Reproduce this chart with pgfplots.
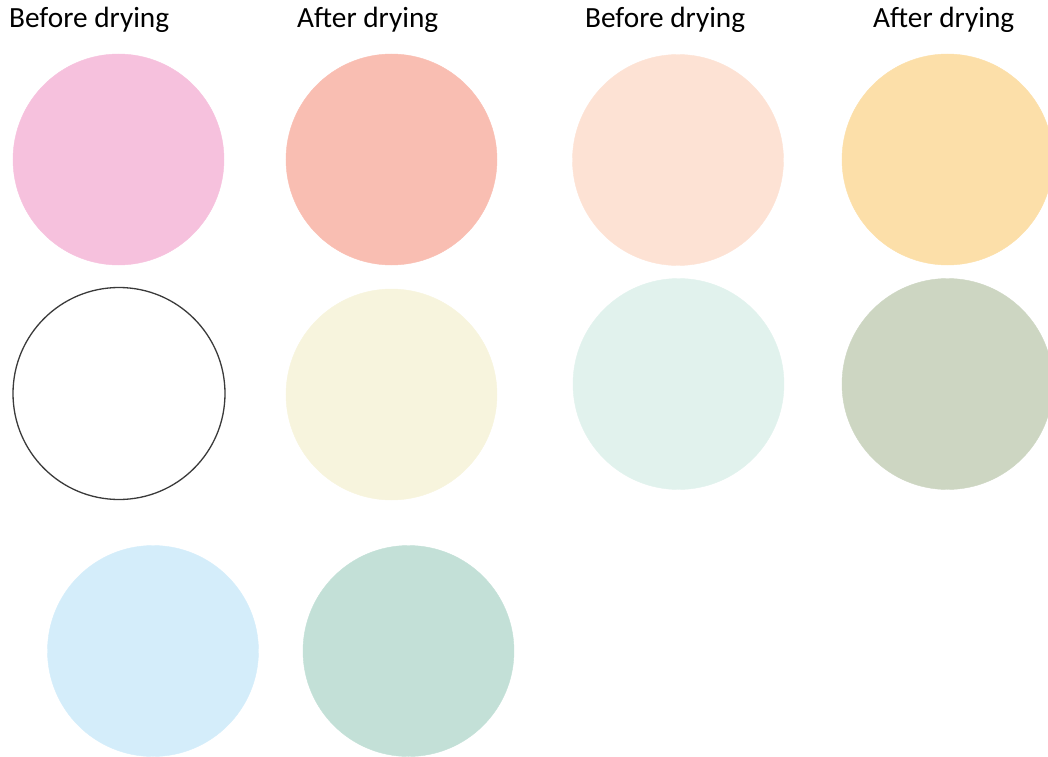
\documentclass[border=0pt]{standalone}
\usepackage{pgfplots}
\pgfplotsset{compat=1.18}
\usepackage{fontspec}
\setmainfont{Carlito}
\definecolor{cPink}{HTML}{F6C1DD}
\definecolor{cSalmon}{HTML}{F9BEB2}
\definecolor{cPeach}{HTML}{FDE2D4}
\definecolor{cYellow}{HTML}{FCDFA9}
\definecolor{cCream}{HTML}{F7F4DD}
\definecolor{cMint}{HTML}{E1F2ED}
\definecolor{cSage}{HTML}{CDD6C2}
\definecolor{cBlue}{HTML}{D4EDFA}
\definecolor{cTeal}{HTML}{C3E0D7}
\definecolor{cRing}{HTML}{3A3A3A}
\begin{document}
\begin{tikzpicture}
\begin{axis}[
  width=1048bp, height=757bp, scale only axis, hide axis,
  xmin=0, xmax=1048, ymin=0, ymax=757, y dir=reverse,
  clip=false,
  every axis plot/.append style={only marks, mark=*, mark size=105.5bp},
]
\addplot[color=cPink, mark options={fill=cPink, draw=cPink}] coordinates {(118.5,159.5)};
\addplot[color=cSalmon, mark options={fill=cSalmon, draw=cSalmon}] coordinates {(391.5,159.5)};
\addplot[color=cPeach, mark options={fill=cPeach, draw=cPeach}] coordinates {(678,160)};
\addplot[color=cYellow, mark options={fill=cYellow, draw=cYellow}] coordinates {(947.5,159.5)};
\addplot[color=cRing, mark options={fill=white, draw=cRing, line width=1.3bp}, mark size=106bp] coordinates {(119,393.5)};
\addplot[color=cCream, mark options={fill=cCream, draw=cCream}] coordinates {(391.5,394.5)};
\addplot[color=cMint, mark options={fill=cMint, draw=cMint}] coordinates {(678.5,384)};
\addplot[color=cSage, mark options={fill=cSage, draw=cSage}] coordinates {(947.5,384)};
\addplot[color=cBlue, mark options={fill=cBlue, draw=cBlue}] coordinates {(153,651)};
\addplot[color=cTeal, mark options={fill=cTeal, draw=cTeal}] coordinates {(408.5,651)};
\begin{scope}[every node/.style={anchor=base west, inner sep=0pt, font=\fontsize{29.3bp}{35bp}\selectfont}]
\node at (axis cs:9,28) {Before drying};
\node at (axis cs:297,28) {After drying};
\node at (axis cs:585,28) {Before drying};
\node at (axis cs:873,28) {After drying};
\end{scope}
\end{axis}
\pgfresetboundingbox
\path[use as bounding box] (0,0) rectangle (1048bp,757bp);
\end{tikzpicture}
\end{document}
